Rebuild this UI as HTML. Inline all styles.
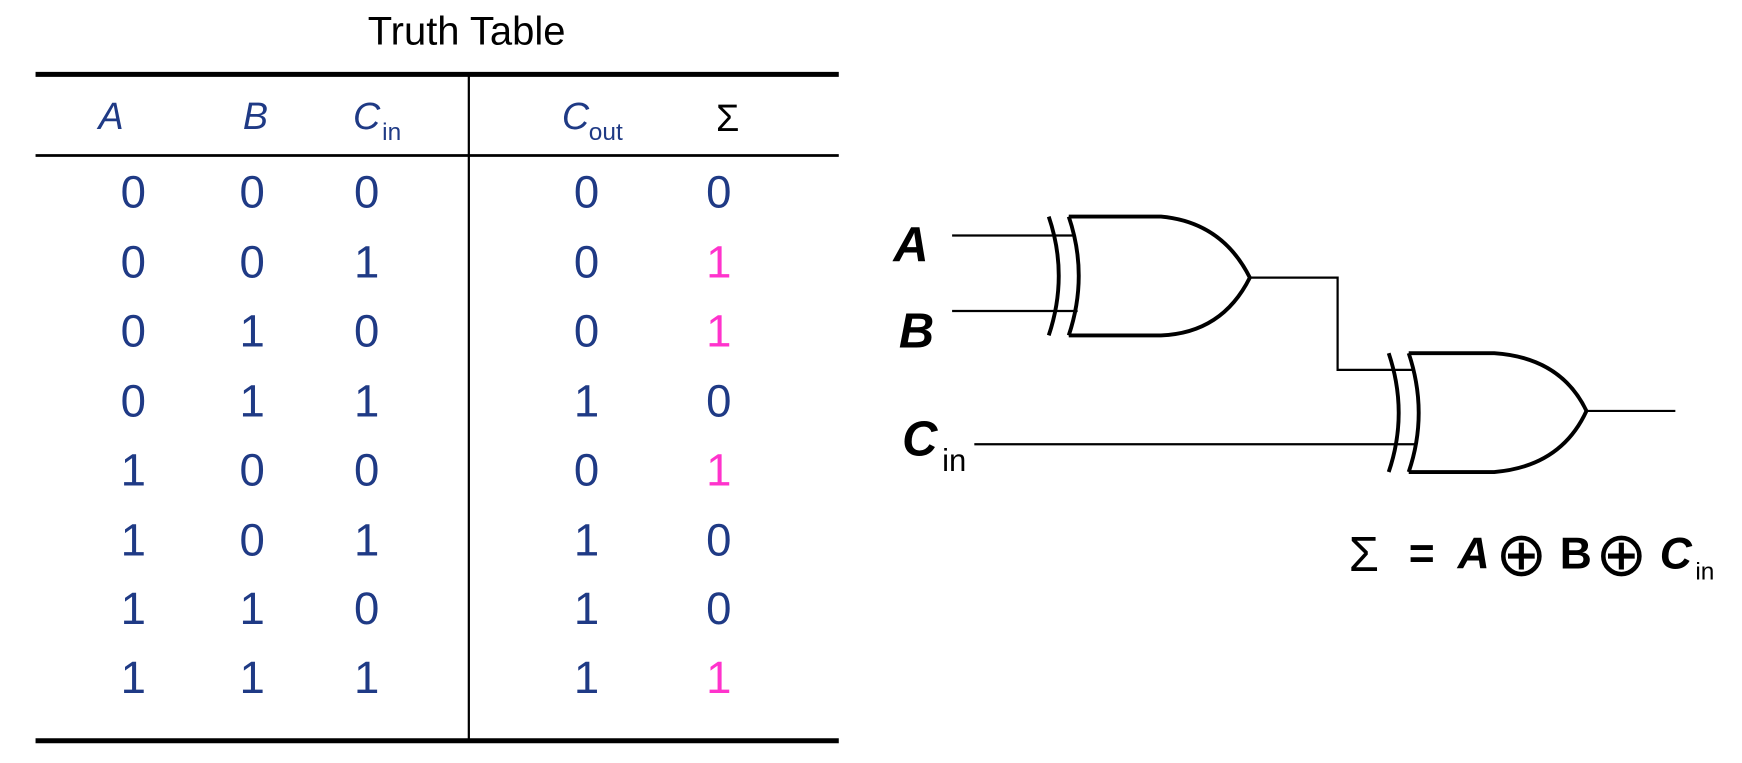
<!DOCTYPE html>
<html><head><meta charset="utf-8"><style>
html,body{margin:0;padding:0;background:#fff;}
svg{display:block}
text{font-family:"Liberation Sans",sans-serif;}
</style></head><body>
<svg width="1742" height="763" viewBox="0 0 1568 687" preserveAspectRatio="none" xmlns="http://www.w3.org/2000/svg">
<text x="420" y="40" font-size="36" text-anchor="middle" fill="#000">Truth Table</text>
<line x1="32" y1="67" x2="755" y2="67" stroke="#000" stroke-width="4.5"/>
<line x1="32" y1="140" x2="755" y2="140" stroke="#000" stroke-width="2.5"/>
<line x1="32" y1="667" x2="755" y2="667" stroke="#000" stroke-width="4.5"/>
<line x1="422" y1="67" x2="422" y2="667" stroke="#000" stroke-width="2"/>
<g fill="#1f3a85" font-size="34" font-style="italic">
<text x="100" y="116" text-anchor="middle">A</text>
<text x="230" y="116" text-anchor="middle">B</text>
<text x="330" y="116" text-anchor="middle">C</text><text x="344" y="126" font-size="22" font-style="normal">in</text>
<text x="518" y="116" text-anchor="middle">C</text><text x="530" y="126" font-size="22" font-style="normal">out</text>
</g>
<text x="655" y="118" font-size="34" fill="#000" text-anchor="middle">Σ</text>
<g font-size="41" text-anchor="middle" fill="#1f3a85">
<text x="120" y="187">0</text><text x="227" y="187">0</text><text x="330" y="187">0</text><text x="528" y="187">0</text><text x="647" y="187">0</text>
<text x="120" y="250">0</text><text x="227" y="250">0</text><text x="330" y="250">1</text><text x="528" y="250">0</text><text x="647" y="250" fill="#ff33cc">1</text>
<text x="120" y="312">0</text><text x="227" y="312">1</text><text x="330" y="312">0</text><text x="528" y="312">0</text><text x="647" y="312" fill="#ff33cc">1</text>
<text x="120" y="375">0</text><text x="227" y="375">1</text><text x="330" y="375">1</text><text x="528" y="375">1</text><text x="647" y="375">0</text>
<text x="120" y="437">1</text><text x="227" y="437">0</text><text x="330" y="437">0</text><text x="528" y="437">0</text><text x="647" y="437" fill="#ff33cc">1</text>
<text x="120" y="500">1</text><text x="227" y="500">0</text><text x="330" y="500">1</text><text x="528" y="500">1</text><text x="647" y="500">0</text>
<text x="120" y="562">1</text><text x="227" y="562">1</text><text x="330" y="562">0</text><text x="528" y="562">1</text><text x="647" y="562">0</text>
<text x="120" y="624">1</text><text x="227" y="624">1</text><text x="330" y="624">1</text><text x="528" y="624">1</text><text x="647" y="624" fill="#ff33cc">1</text>
</g>
<g fill="none" stroke="#000" stroke-width="3.5">
<path d="M962,195 L1045,195 Q1100,200 1125,250 Q1100,300 1045,302 L962,302"/>
<path d="M962,195 Q980,248 962,302"/>
<path d="M944,195 Q962,248 944,302"/>
<path d="M1268,318 L1345,318 Q1405,322 1428,370 Q1405,420 1345,425 L1268,425"/>
<path d="M1268,318 Q1286,372 1268,425"/>
<path d="M1250,318 Q1268,372 1250,425"/>
</g>
<g stroke="#000" stroke-width="2" fill="none">
<line x1="857" y1="212" x2="967" y2="212"/>
<line x1="857" y1="280" x2="970" y2="280"/>
<polyline points="1125,250 1204,250 1204,333 1272,333"/>
<line x1="877" y1="400" x2="1274" y2="400"/>
<line x1="1428" y1="370" x2="1508" y2="370"/>
</g>
<g font-size="44" font-style="italic" font-weight="bold" fill="#000">
<text x="820" y="235" text-anchor="middle">A</text>
<text x="825" y="313" text-anchor="middle">B</text>
<text x="812" y="410">C</text><text x="848" y="424" font-size="28" font-style="normal" font-weight="normal">in</text>
</g>
<g font-size="40" fill="#000">
<text x="1214" y="514" font-size="44">Σ</text>
<text x="1268" y="512" font-weight="bold">=</text>
<text x="1312" y="512" font-style="italic" font-weight="bold">A</text>
<text x="1346" y="518" font-size="56">⊕</text>
<text x="1404" y="512" font-weight="bold">B</text>
<text x="1436" y="518" font-size="56">⊕</text>
<text x="1494" y="512" font-style="italic" font-weight="bold">C</text>
<text x="1526" y="522" font-size="22" font-family="Liberation Serif">in</text>
</g>
</svg>
</body></html>
